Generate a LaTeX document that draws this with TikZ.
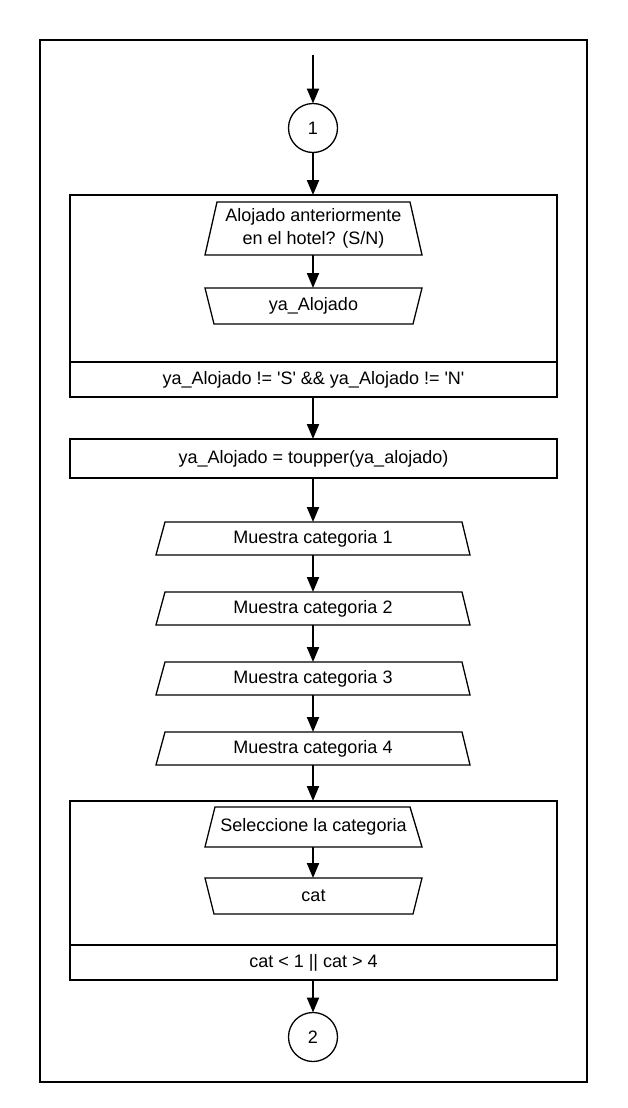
\documentclass[tikz,border=0pt]{standalone}
\usepackage{fontspec}
\setmainfont{Liberation Sans}
\usetikzlibrary{arrows.meta}
\begin{document}
\begin{tikzpicture}[x=1pt,y=-1pt,
  every node/.style={font=\fontsize{18}{22.5}\selectfont, inner sep=0pt, outer sep=0pt},
  boxed/.style={draw, line width=1.8pt, rectangle},
  txt/.style={rectangle, align=center},
  trap/.style={line width=1.3pt, line join=miter},
  conn/.style={circle, draw, line width=1.3pt, minimum size=49pt},
  arr/.style={line width=2pt, -{Triangle[length=15pt,width=12pt]}}
]
\useasboundingbox (0,0) rectangle (628,1108);
\node[boxed, minimum width=547pt, minimum height=1042pt] (frame) at (313.5,561) {};

\coordinate (start) at (313,55);
\node[conn] (c1) at (313,128) {1};

% loop box 1
\node[boxed, minimum width=487pt, minimum height=202pt] (b1) at (313.5,296) {};
\coordinate (d1) at (313.5,362);
\draw[line width=1.8pt] (b1.west |- d1) -- (b1.east |- d1);
\node[txt] (b1c) at (313.5,380) {ya\_Alojado != \textquotesingle S\textquotesingle{} \&\& ya\_Alojado != \textquotesingle N\textquotesingle};

\node[txt, minimum width=217pt, minimum height=53pt] (in1) at (313.5,228.5) {Alojado anteriormente\\en el hotel? (S/N)};
\draw[trap] ([xshift=12pt]in1.north west) -- ([xshift=-12pt]in1.north east) -- (in1.south east) -- (in1.south west) -- cycle;

\node[txt, minimum width=217pt, minimum height=36pt] (in2) at (313.5,306) {ya\_Alojado};
\draw[trap] (in2.north west) -- (in2.north east) -- ([xshift=-9pt]in2.south east) -- ([xshift=9pt]in2.south west) -- cycle;

\node[boxed, minimum width=487pt, minimum height=39pt] (r1) at (313.5,458.5) {ya\_Alojado = toupper(ya\_alojado)};

\foreach \i/\yy in {1/538.5,2/608.5,3/678.5,4/748.5}{
  \node[txt, minimum width=314pt, minimum height=33pt] (m\i) at (313,\yy) {Muestra categoria \i};
  \draw[trap] ([xshift=9pt]m\i.north west) -- ([xshift=-8pt]m\i.north east) -- (m\i.south east) -- (m\i.south west) -- cycle;
}

% loop box 2
\node[boxed, minimum width=487pt, minimum height=179pt] (b2) at (313.5,890.5) {};
\coordinate (d2) at (313.5,945);
\draw[line width=1.8pt] (b2.west |- d2) -- (b2.east |- d2);
\node[txt] (b2c) at (313.5,963) {cat < 1 || cat > 4};

\node[txt, minimum width=217pt, minimum height=40pt] (s1) at (313.5,827) {Seleccione la categoria};
\draw[trap] ([xshift=10pt]s1.north west) -- ([xshift=-12pt]s1.north east) -- (s1.south east) -- (s1.south west) -- cycle;

\node[txt, minimum width=217pt, minimum height=36pt] (cat) at (313.5,896) {cat};
\draw[trap] (cat.north west) -- (cat.north east) -- ([xshift=-9pt]cat.south east) -- ([xshift=9pt]cat.south west) -- cycle;

\node[conn] (c2) at (313,1037) {2};

% connectors
\draw[arr] (start) -- (c1.north);
\draw[arr] (c1.south) -- (c1 |- b1.north);
\draw[arr] (in1.south -| c1) -- (in2.north -| c1);
\draw[arr] (b1.south -| c1) -- (r1.north -| c1);
\draw[arr] (r1.south -| c1) -- (m1.north);
\draw[arr] (m1.south) -- (m2.north);
\draw[arr] (m2.south) -- (m3.north);
\draw[arr] (m3.south) -- (m4.north);
\draw[arr] (m4.south) -- (m4 |- b2.north);
\draw[arr] (s1.south -| c1) -- (cat.north -| c1);
\draw[arr] (b2.south -| c2) -- (c2.north);
\end{tikzpicture}
\end{document}
